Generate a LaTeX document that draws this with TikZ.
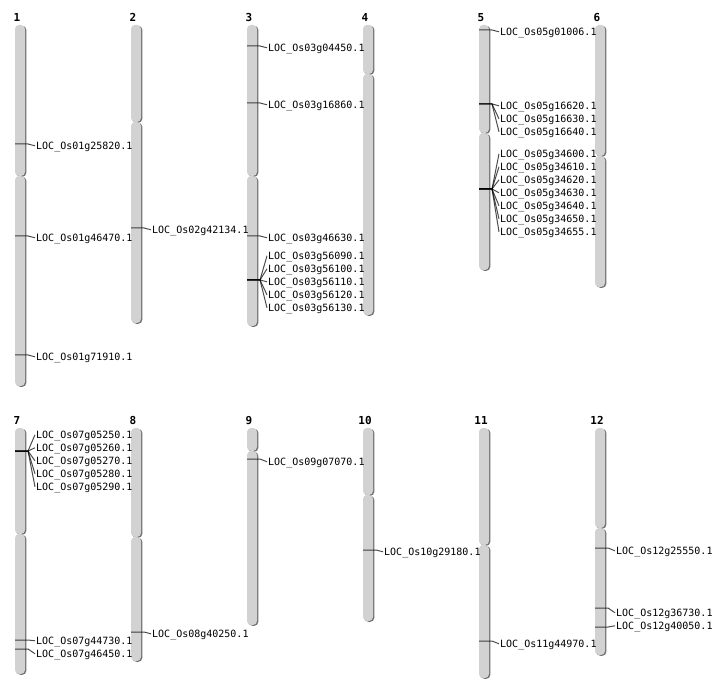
\documentclass[tikz,border=0pt]{standalone}
\usepackage{fontspec}
\setmonofont{DejaVu Sans Mono}
\usetikzlibrary{shadows}
\tikzset{arm/.style={fill=gray!35, rounded corners=4pt, minimum width=10pt, inner sep=0pt, drop shadow={shadow xshift=1.3pt, shadow yshift=-0.8pt, fill=gray!60!black, opacity=0.8}}}
\tikzset{num/.style={font=\fontsize{11}{13}\selectfont\ttfamily\bfseries, inner sep=0pt}}
\tikzset{lab/.style={anchor=west, font=\ttfamily, inner sep=1pt, text height=7.3pt, text depth=0pt, yshift=-0.8pt}}
\tikzset{tk/.style={line width=1pt, black, opacity=0.7}}

\begin{document}
\begin{tikzpicture}[x=1pt,y=-1pt]
\useasboundingbox (0,0) rectangle (712,700);

\node[arm, minimum height=151pt] (c1p) at (20,100.5) {};
\node[arm, minimum height=210pt] (c1q) at (20,281) {};
\node[arm, minimum height=97pt] (c2p) at (136,73.5) {};
\node[arm, minimum height=201pt] (c2q) at (136,222.5) {};
\node[arm, minimum height=151pt] (c3p) at (252,100.5) {};
\node[arm, minimum height=150pt] (c3q) at (252,251) {};
\node[arm, minimum height=49pt] (c4p) at (368,49.5) {};
\node[arm, minimum height=241pt] (c4q) at (368,194.5) {};
\node[arm, minimum height=108pt] (c5p) at (484,79) {};
\node[arm, minimum height=137pt] (c5q) at (484,201.5) {};
\node[arm, minimum height=131pt] (c6p) at (600,90.5) {};
\node[arm, minimum height=131pt] (c6q) at (600,221.5) {};

\node[arm, minimum height=106pt] (c7p) at (20,481) {};
\node[arm, minimum height=140pt] (c7q) at (20,604) {};
\node[arm, minimum height=109pt] (c8p) at (136,482.5) {};
\node[arm, minimum height=124pt] (c8q) at (136,599) {};
\node[arm, minimum height=23pt] (c9p) at (252,439.5) {};
\node[arm, minimum height=174pt] (c9q) at (252,538) {};
\node[arm, minimum height=67pt] (c10p) at (368,461.5) {};
\node[arm, minimum height=126pt] (c10q) at (368,558) {};
\node[arm, minimum height=117pt] (c11p) at (484,486.5) {};
\node[arm, minimum height=133pt] (c11q) at (484,611.5) {};
\node[arm, minimum height=100pt] (c12p) at (600,478) {};
\node[arm, minimum height=127pt] (c12q) at (600,591.5) {};

\node[num] (n1) at (17,17.5) {1};
\node[num] (n2) at (133,17.5) {2};
\node[num] (n3) at (249,17.5) {3};
\node[num] (n4) at (365,17.5) {4};
\node[num] (n5) at (481,17.5) {5};
\node[num] (n6) at (597,17.5) {6};
\node[num] (n7) at (17,420.5) {7};
\node[num] (n8) at (133,420.5) {8};
\node[num] (n9) at (249,420.5) {9};
\node[num] (n10) at (365,420.5) {10};
\node[num] (n11) at (481,420.5) {11};
\node[num] (n12) at (597,420.5) {12};

\coordinate (t1a) at (15,144);
\coordinate (t1b) at (15,236);
\coordinate (t1c) at (15,355);
\node[lab] (g1a) at (35,145) {LOC\_Os01g25820.1};
\node[lab] (g1b) at (35,237) {LOC\_Os01g46470.1};
\node[lab] (g1c) at (35,356) {LOC\_Os01g71910.1};
\draw[tk] (t1a) -- ++(13,0) -- (g1a.west);
\draw[tk] (t1b) -- ++(13,0) -- (g1b.west);
\draw[tk] (t1c) -- ++(13,0) -- (g1c.west);

\coordinate (t2a) at (131,228);
\node[lab] (g2a) at (151,229) {LOC\_Os02g42134.1};
\draw[tk] (t2a) -- ++(13,0) -- (g2a.west);

\coordinate (t3a) at (247,46);
\coordinate (t3b) at (247,103);
\coordinate (t3c) at (247,236);
\coordinate (t3d) at (247,280);
\node[lab] (g3a) at (267,47) {LOC\_Os03g04450.1};
\node[lab] (g3b) at (267,104) {LOC\_Os03g16860.1};
\node[lab] (g3c) at (267,237) {LOC\_Os03g46630.1};
\node[lab] (g3d) at (267,255) {LOC\_Os03g56090.1};
\node[lab] (g3e) at (267,268) {LOC\_Os03g56100.1};
\node[lab] (g3f) at (267,281) {LOC\_Os03g56110.1};
\node[lab] (g3g) at (267,294) {LOC\_Os03g56120.1};
\node[lab] (g3h) at (267,307) {LOC\_Os03g56130.1};
\draw[tk] (t3a) -- ++(13,0) -- (g3a.west);
\draw[tk] (t3b) -- ++(13,0) -- (g3b.west);
\draw[tk] (t3c) -- ++(13,0) -- (g3c.west);
\draw[tk] (t3d) -- ++(13,0) -- (g3d.west);
\draw[tk] (t3d) -- ++(13,0) -- (g3e.west);
\draw[tk] (t3d) -- ++(13,0) -- (g3f.west);
\draw[tk] (t3d) -- ++(13,0) -- (g3g.west);
\draw[tk] (t3d) -- ++(13,0) -- (g3h.west);

\coordinate (t5a) at (479,30);
\coordinate (t5b) at (479,104);
\coordinate (t5c) at (479,189);
\node[lab] (g5a) at (499,31) {LOC\_Os05g01006.1};
\node[lab] (g5b) at (499,105) {LOC\_Os05g16620.1};
\node[lab] (g5c) at (499,118) {LOC\_Os05g16630.1};
\node[lab] (g5d) at (499,131) {LOC\_Os05g16640.1};
\node[lab] (g5e) at (499,153) {LOC\_Os05g34600.1};
\node[lab] (g5f) at (499,166) {LOC\_Os05g34610.1};
\node[lab] (g5g) at (499,179) {LOC\_Os05g34620.1};
\node[lab] (g5h) at (499,192) {LOC\_Os05g34630.1};
\node[lab] (g5i) at (499,205) {LOC\_Os05g34640.1};
\node[lab] (g5j) at (499,218) {LOC\_Os05g34650.1};
\node[lab] (g5k) at (499,231) {LOC\_Os05g34655.1};
\draw[tk] (t5a) -- ++(13,0) -- (g5a.west);
\draw[tk] (t5b) -- ++(13,0) -- (g5b.west);
\draw[tk] (t5b) -- ++(13,0) -- (g5c.west);
\draw[tk] (t5b) -- ++(13,0) -- (g5d.west);
\draw[tk] (t5c) -- ++(13,0) -- (g5e.west);
\draw[tk] (t5c) -- ++(13,0) -- (g5f.west);
\draw[tk] (t5c) -- ++(13,0) -- (g5g.west);
\draw[tk] (t5c) -- ++(13,0) -- (g5h.west);
\draw[tk] (t5c) -- ++(13,0) -- (g5i.west);
\draw[tk] (t5c) -- ++(13,0) -- (g5j.west);
\draw[tk] (t5c) -- ++(13,0) -- (g5k.west);

\coordinate (t7a) at (15,451);
\coordinate (t7b) at (15,640);
\coordinate (t7c) at (15,649);
\node[lab] (g7a) at (35,434) {LOC\_Os07g05250.1};
\node[lab] (g7b) at (35,447) {LOC\_Os07g05260.1};
\node[lab] (g7c) at (35,460) {LOC\_Os07g05270.1};
\node[lab] (g7d) at (35,473) {LOC\_Os07g05280.1};
\node[lab] (g7e) at (35,486) {LOC\_Os07g05290.1};
\node[lab] (g7f) at (35,640) {LOC\_Os07g44730.1};
\node[lab] (g7g) at (35,653) {LOC\_Os07g46450.1};
\draw[tk] (t7a) -- ++(13,0) -- (g7a.west);
\draw[tk] (t7a) -- ++(13,0) -- (g7b.west);
\draw[tk] (t7a) -- ++(13,0) -- (g7c.west);
\draw[tk] (t7a) -- ++(13,0) -- (g7d.west);
\draw[tk] (t7a) -- ++(13,0) -- (g7e.west);
\draw[tk] (t7b) -- ++(13,0) -- (g7f.west);
\draw[tk] (t7c) -- ++(13,0) -- (g7g.west);

\coordinate (t8a) at (131,632);
\node[lab] (g8a) at (151,633) {LOC\_Os08g40250.1};
\draw[tk] (t8a) -- ++(13,0) -- (g8a.west);

\coordinate (t9a) at (247,459);
\node[lab] (g9a) at (267,461) {LOC\_Os09g07070.1};
\draw[tk] (t9a) -- ++(13,0) -- (g9a.west);

\coordinate (t10a) at (363,550);
\node[lab] (g10a) at (383,551) {LOC\_Os10g29180.1};
\draw[tk] (t10a) -- ++(13,0) -- (g10a.west);

\coordinate (t11a) at (479,641);
\node[lab] (g11a) at (499,643) {LOC\_Os11g44970.1};
\draw[tk] (t11a) -- ++(13,0) -- (g11a.west);

\coordinate (t12a) at (595,548);
\coordinate (t12b) at (595,608);
\coordinate (t12c) at (595,627);
\node[lab] (g12a) at (615,550) {LOC\_Os12g25550.1};
\node[lab] (g12b) at (615,612) {LOC\_Os12g36730.1};
\node[lab] (g12c) at (615,625) {LOC\_Os12g40050.1};
\draw[tk] (t12a) -- ++(13,0) -- (g12a.west);
\draw[tk] (t12b) -- ++(13,0) -- (g12b.west);
\draw[tk] (t12c) -- ++(13,0) -- (g12c.west);
\end{tikzpicture}
\end{document}
